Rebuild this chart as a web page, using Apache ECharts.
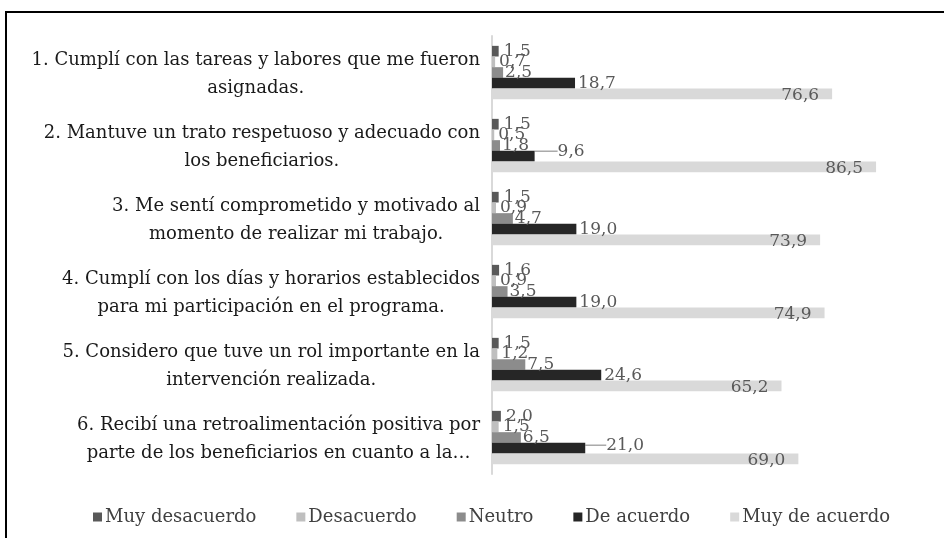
<!DOCTYPE html>
<html>
<head>
<meta charset="utf-8">
<script src="https://cdn.jsdelivr.net/npm/echarts@6/dist/echarts.min.js"></script>
<style>
  html, body { margin: 0; padding: 0; background: #fff; overflow: hidden; }
  #frame { position: absolute; left: 5px; top: 11px; width: 1000px; height: 600px;
           border-top: 2px solid #000; border-left: 2px solid #000; }
  #charts { position: absolute; left: 0; top: 0; width: 944px; height: 538px; }
</style>
</head>
<body>
<div id="frame"></div>
<div id="charts"></div>
<script>
// preguntas (con los saltos de línea del original)
var categorias = [
  '1. Cumplí con las tareas y labores que me fueron\nasignadas.',
  '2. Mantuve un trato respetuoso y adecuado con\nlos beneficiarios.',
  '3. Me sentí comprometido y motivado al\nmomento de realizar mi trabajo.',
  '4. Cumplí con los días y horarios establecidos\npara mi participación en el programa.',
  '5. Considero que tuve un rol importante en la\nintervención realizada.',
  '6. Recibí una retroalimentación positiva por\nparte de los beneficiarios en cuanto a la…'
];
var muyDesacuerdo = [1.5, 1.5, 1.5, 1.6, 1.5, 2.0];
var desacuerdo    = [0.7, 0.5, 0.9, 0.9, 1.2, 1.5];
var neutro        = [2.5, 1.8, 4.7, 3.5, 7.5, 6.5];
var deAcuerdo     = [18.7, 9.6, 19.0, 19.0, 24.6, 21.0];
var muyDeAcuerdo  = [76.6, 86.5, 73.9, 74.9, 65.2, 69.0];

var fuente = 'DejaVu Serif';

function etiqueta(pos, dist) {
  return {
    show: true, position: pos, distance: dist,
    color: '#595959', fontFamily: fuente, fontSize: 17,
    formatter: function (p) { return p.value.toFixed(1).replace('.', ','); }
  };
}

function serie(nombre, datos, color, pos, dist) {
  return {
    name: nombre, type: 'bar', data: datos,
    barGap: '0%', barCategoryGap: '27%',
    itemStyle: { color: color },
    label: etiqueta(pos, dist)
  };
}

var chart = echarts.init(document.getElementById('charts'));

// las etiquetas 9,6 y 21,0 van desplazadas con línea guía
var movidas = { 1: [20, -5], 5: [18, -3] };
var deAcuerdoDatos = deAcuerdo.map(function (v, i) {
  return movidas[i] ? { value: v, labelLine: { show: true } } : v;
});

var series = [
  serie('Muy desacuerdo', muyDesacuerdo, '#595959', 'right', 5),
  serie('Desacuerdo', desacuerdo, '#bfbfbf', 'right', 4),
  serie('Neutro', neutro, '#8c8c8c', 'right', 2),
  serie('De acuerdo', deAcuerdoDatos, '#262626', 'right', 3),
  serie('Muy de acuerdo', muyDeAcuerdo, '#d9d9d9', 'insideRight', 13)
];
series[3].label.offset = [0, -3];
series[3].labelLayout = function (p) {
  var m = movidas[p.dataIndex];
  return m ? { dx: m[0], dy: m[1] } : {};
};
series[3].labelLine = { show: false, lineStyle: { color: '#7f7f7f', width: 1 } };
series[4].label.offset = [0, 2];

var options = {
  animation: false,
  grid: { left: 492, right: 8, top: 36, bottom: 64, containLabel: false },
  legend: {
    top: 503, left: 88,
    itemWidth: 9, itemHeight: 9, itemGap: 40, icon: 'rect',
    textStyle: { color: '#404040', fontFamily: fuente, fontSize: 18, padding: [0, 0, 0, -2] },
    data: ['Muy desacuerdo', 'Desacuerdo', 'Neutro', 'De acuerdo', 'Muy de acuerdo']
  },
  xAxis: {
    type: 'value', min: 0, max: 100, show: false
  },
  yAxis: {
    type: 'category', inverse: true, data: categorias,
    axisLine: { show: true, lineStyle: { color: '#d9d9d9', width: 2 } },
    axisTick: { show: false },
    axisLabel: {
      margin: 12, align: 'right',
      color: '#1a1a1a', fontFamily: fuente, fontSize: 18, lineHeight: 28,
      formatter: function (v) {
        return v.split('\n').map(function (l) { return '{c|' + l + '}'; }).join('\n');
      },
      rich: { c: { align: 'center', color: '#1a1a1a', fontFamily: fuente, fontSize: 18, lineHeight: 28, padding: [4, 0, 0, 0] } }
    }
  },
  series: series
};
chart.setOption(options);
</script>
</body>
</html>
